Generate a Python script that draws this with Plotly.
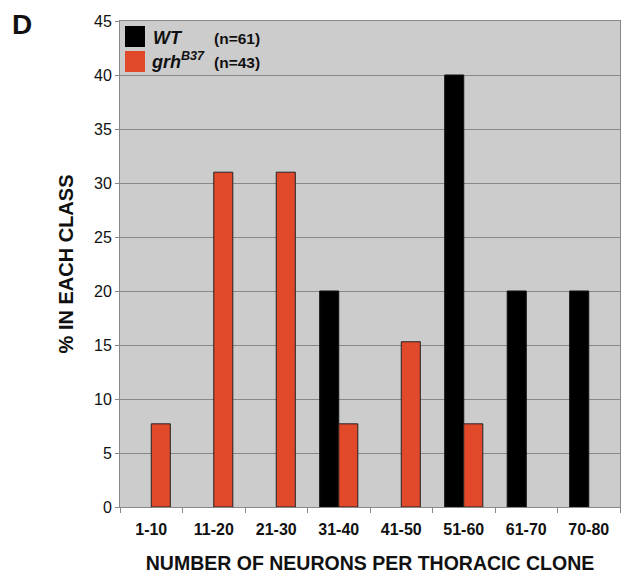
import plotly.graph_objects as go

categories = ["1-10", "11-20", "21-30", "31-40", "41-50", "51-60", "61-70", "70-80"]
wt_values = [None, None, None, 20, None, 40, 20, 20]
grh_values = [7.7, 31, 31, 7.7, 15.3, 7.7, None, None]
y_ticks = [0, 5, 10, 15, 20, 25, 30, 35, 40, 45]

RED = "#E2492B"
FONT = "Liberation Sans, Arial, sans-serif"

fig = go.Figure()
fig.add_trace(go.Bar(x=categories, y=wt_values, name="WT", marker=dict(color="#000000", line=dict(color="#111111", width=1)), showlegend=False))
fig.add_trace(go.Bar(x=categories, y=grh_values, name="grh", marker=dict(color=RED, line=dict(color="#222222", width=1)), showlegend=False))

W, H = 623, 574
L, R, T, B = 120, 3, 21, 67

def px(x):
    return (x - L) / (W - L - R)

def py(y):
    return 1 - (y - T) / (H - T - B)

# legend swatches
fig.add_shape(type="rect", xref="paper", yref="paper", x0=px(125), x1=px(145), y0=py(47), y1=py(26), fillcolor="#000000", line=dict(width=0))
fig.add_shape(type="rect", xref="paper", yref="paper", x0=px(125), x1=px(145), y0=py(72), y1=py(51), fillcolor=RED, line=dict(width=0))

ann = [
    dict(x=px(151), y=py(38), text="<b><i>WT</i></b>", size=18, xanchor="left"),
    dict(x=px(212), y=py(39), text="<b>(n=61)</b>", size=15.5, xanchor="left"),
    dict(x=px(149), y=py(60), text="<b><i>grh<sup>B37</sup></i></b>", size=18, xanchor="left"),
    dict(x=px(212), y=py(62), text="<b>(n=43)</b>", size=15.5, xanchor="left"),
    dict(x=px(10), y=py(24), text="<b>D</b>", size=28, xanchor="left"),
]
for a in ann:
    fig.add_annotation(x=a["x"], y=a["y"], xref="paper", yref="paper", text=a["text"], showarrow=False,
                       xanchor=a["xanchor"], yanchor="middle", font=dict(family=FONT, size=a["size"], color="#111111"))

fig.update_layout(
    width=W, height=H,
    margin=dict(l=L, r=R, t=T, b=B, autoexpand=False),
    paper_bgcolor="white",
    plot_bgcolor="#CCCCCC",
    barmode="group",
    bargap=0.39,
    bargroupgap=0,
    font=dict(family=FONT, color="#111111"),
    xaxis=dict(
        automargin=False,
        title=dict(text="<b>NUMBER OF NEURONS PER THORACIC CLONE</b>", font=dict(size=19.5, family=FONT), standoff=20),
        tickfont=dict(size=16, family=FONT),
        ticklabelstandoff=8,
        ticks="outside", tickson="boundaries", ticklen=5, tickcolor="#888888",
        showline=True, linecolor="#888888", linewidth=1, mirror=True,
        tickprefix="<b>", ticksuffix="</b>",
    ),
    yaxis=dict(
        automargin=False,
        title=dict(text="<b>% IN EACH CLASS</b>", font=dict(size=20, family=FONT), standoff=15),
        range=[0, 45], tickvals=y_ticks,
        tickfont=dict(size=16, family=FONT),
        tickprefix="<b>", ticksuffix="</b>",
        ticks="outside", ticklen=4, tickcolor="#888888",
        showgrid=True, gridcolor="#888888", gridwidth=1,
        showline=True, linecolor="#888888", linewidth=1, mirror=True,
        zeroline=False,
    ),
)

fig.write_html("out.html", config={"displayModeBar": False},
               post_script="document.body.style.margin='0';document.body.style.padding='0';document.body.style.overflow='hidden';")
